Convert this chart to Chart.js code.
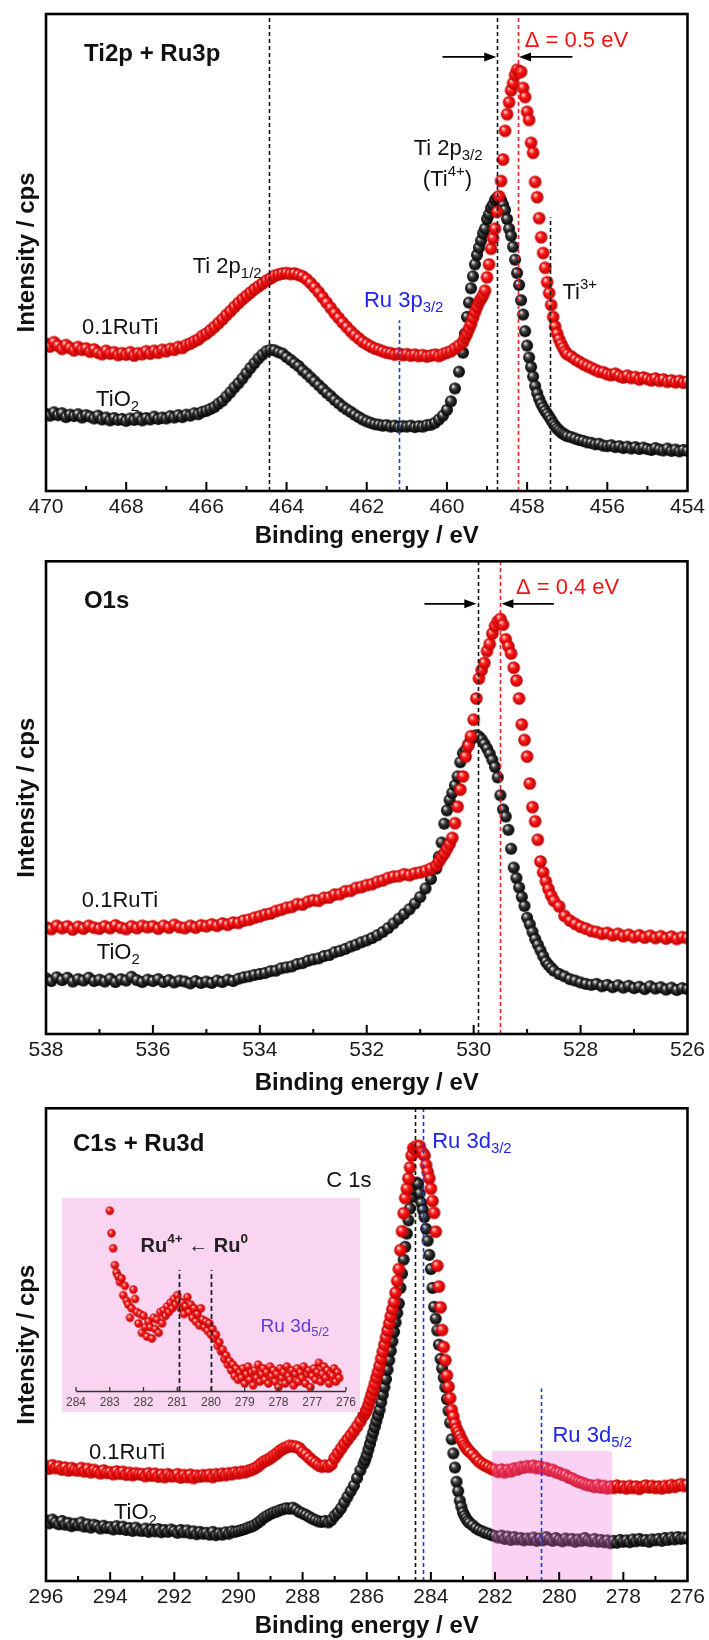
<!DOCTYPE html>
<html>
<head>
<meta charset="utf-8">
<script src="https://cdn.jsdelivr.net/npm/chart.js@4.4.0/dist/chart.umd.min.js"></script>
<style>
  body { margin: 0; background: #fff; }
  #wrap { position: relative; width: 709px; height: 1640px; overflow: hidden; background: #fff; }
  canvas { position: absolute; }
</style>
</head>
<body>
<div id="wrap">
  <canvas id="ti2p" width="709" height="554" style="left:0;top:0"></canvas>
  <canvas id="o1s" width="709" height="547" style="left:0;top:554px"></canvas>
  <canvas id="c1s" width="709" height="543" style="left:0;top:1101px"></canvas>
  <canvas id="inset" width="298" height="214" style="left:62px;top:1198px"></canvas>
</div>
<script>
// energy grids (eV) - finer steps across the main peaks
function grid(from, to, step) {
  const out = [];
  const n = Math.round(Math.abs(from - to) / step);
  for (let i = 0; i <= n; i++) out.push(+(from - i * step).toFixed(2));
  return out;
}

const ti2pEnergy = [...grid(470, 459.6, 0.1), ...grid(459.55, 457.0, 0.05), ...grid(456.9, 454.0, 0.1)];
const o1sEnergy = [...grid(538, 530.7, 0.1), ...grid(530.65, 528.5, 0.05), ...grid(528.4, 526.0, 0.1)];
const c1sEnergy = [...grid(296, 286.1, 0.1), ...grid(286.05, 282.8, 0.05), ...grid(282.7, 276.0, 0.1)];
const insetEnergy = grid(283.0, 276.2, 0.05);

// intensities, arbitrary units (0 = bottom of frame, 100 = top)
const ti2pTiO2 = [
  16.2,15.8,16.5,15.9,16.3,15.5,16.0,15.7,16.1,15.4,
  15.9,15.6,15.2,15.8,15.0,15.4,14.8,15.3,14.9,15.1,
  14.7,15.2,14.9,15.5,14.8,15.3,15.0,15.6,15.1,15.4,
  15.2,15.7,15.4,15.9,15.5,16.0,15.8,16.3,16.1,16.6,
  16.8,17.2,17.6,18.3,18.9,19.8,20.7,21.7,22.6,23.6,
  24.7,25.8,26.8,27.8,28.6,29.3,29.6,29.5,29.1,28.8,
  28.1,27.5,26.8,26.2,25.3,24.6,23.8,23.0,22.2,21.4,
  20.6,19.9,19.1,18.4,17.7,17.1,16.6,16.0,15.5,15.0,
  14.6,14.3,14.0,13.9,13.7,13.8,13.5,13.7,13.4,13.6,
  13.5,13.7,13.4,13.6,13.5,13.8,13.9,14.3,15.0,15.8,
  17.0,18.8,21.5,25.0,29.0,
  33.0,36.5,39.5,42.5,45.0,47.5,49.5,51.0,52.5,54.0,55.0,57.0,
  58.0,59.3,60.0,61.0,61.5,61.3,61.0,60.0,58.9,57.0,55.0,53.5,51.2,48.5,45.7,43.2,40.0,37.0,33.5,30.5,
  28.0,26.0,24.0,22.0,20.5,19.3,18.3,17.5,16.8,16.2,15.6,14.9,14.2,13.6,13.1,12.7,12.3,12.0,11.8,11.5,
  11.3,11.0,10.7,10.5,10.2,10.1,9.8,9.9,9.5,9.4,
  9.6,9.2,9.4,9.0,9.3,8.9,9.2,8.8,9.1,8.8,
  8.6,9.0,8.7,8.5,8.9,8.4,8.7,8.3,8.6,8.4
];
const ti2pRuTi = [
  30.9,30.3,31.2,30.5,29.8,30.6,30.0,29.5,30.2,29.6,
  29.9,29.2,29.7,29.0,28.7,29.4,28.8,29.1,28.5,28.9,
  28.6,29.1,28.4,28.9,28.7,29.3,28.8,29.4,29.0,29.6,
  29.3,29.8,29.6,30.2,30.0,30.6,30.9,31.4,31.8,32.5,
  33.0,33.7,34.4,35.2,36.0,36.9,37.7,38.6,39.4,40.2,
  40.9,41.6,42.3,42.9,43.5,44.1,44.6,45.1,45.4,45.6,
  45.7,45.5,45.6,45.3,45.0,44.4,43.6,42.7,41.7,40.6,
  39.5,38.4,37.3,36.3,35.3,34.4,33.5,32.7,32.0,31.3,
  30.8,30.3,29.9,29.6,29.3,29.0,28.9,28.6,28.8,28.5,
  28.7,28.4,28.6,28.3,28.5,28.2,28.4,28.6,28.3,28.7,
  29.0,29.3,29.9,30.5,31.2,
  32.2,33.0,34.0,35.0,36.3,37.5,38.6,39.6,40.3,41.0,42.0,44.8,
  47.5,50.8,53.0,55.0,58.5,61.8,65.0,69.5,75.5,79.0,81.5,84.0,85.5,87.2,88.3,87.8,87.9,84.5,82.6,79.5,
  77.8,73.0,70.9,64.8,61.6,57.2,53.2,49.9,46.8,43.8,41.5,39.0,36.5,34.5,33.0,31.8,30.8,30.0,29.2,28.7,
  28.2,27.6,27.1,26.6,26.2,25.8,25.4,25.0,24.9,24.5,
  24.3,24.6,24.1,23.8,24.2,23.7,23.9,23.4,23.8,23.5,
  23.2,23.6,23.1,23.4,22.9,23.2,22.8,23.1,22.7,22.9
];

const o1sRuTi = [
  22.6,22.2,22.9,22.4,22.8,22.1,22.7,22.3,22.9,22.5,
  22.3,22.8,22.4,23.0,22.5,22.2,22.8,22.4,22.9,22.6,
  22.8,22.3,22.9,22.5,23.1,22.6,22.4,22.9,22.5,23.0,
  22.8,23.2,22.9,23.4,23.1,23.6,23.5,24.0,24.2,24.6,
  24.9,25.3,25.5,26.0,26.3,26.7,26.9,27.5,27.4,28.0,
  28.3,28.2,28.8,28.9,29.5,29.6,30.2,30.3,30.9,31.1,
  31.5,31.7,32.2,32.5,33.0,33.3,33.4,33.8,33.6,34.0,
  34.2,34.5,35.0,35.6,
  36.5,37.4,38.2,39.2,40.2,41.5,44.6,48.1,51.7,54.5,58.7,61.0,63.0,66.5,
  71.0,75.2,77.0,78.5,81.0,82.5,84.7,86.3,87.3,87.8,86.6,83.5,82.0,80.5,77.5,74.8,71.0,65.5,62.2,58.7,
  53.0,48.0,45.0,41.1,36.5,34.2,32.3,30.7,29.3,28.2,
  27.0,25.0,24.0,23.3,22.7,22.3,21.8,21.6,21.2,21.4,
  20.9,21.2,20.7,21.0,20.5,20.9,20.4,20.8,20.3,20.7,
  20.2,20.6,20.1,20.5,20.3
];
const o1sTiO2 = [
  11.8,11.2,12.0,11.4,11.9,11.1,11.6,11.3,11.9,11.2,
  11.5,11.1,11.7,11.0,11.6,11.3,12.1,11.4,11.0,11.5,
  11.2,11.6,11.0,11.4,10.9,11.3,11.1,10.7,11.2,10.8,
  11.1,10.8,11.3,11.0,11.5,11.2,11.7,12.0,12.2,12.5,
  12.7,12.9,13.3,13.4,13.9,14.1,14.3,14.8,15.0,15.5,
  15.8,16.0,16.5,16.7,17.3,17.6,18.0,18.5,18.9,19.4,
  19.8,20.3,20.9,21.6,22.4,23.4,24.4,25.4,26.4,27.6,
  29.0,30.8,32.8,35.0,
  37.5,40.5,44.5,47.3,49.5,51.0,52.6,54.5,57.5,59.4,60.1,61.3,62.3,63.0,
  63.2,62.9,62.3,61.4,60.4,59.3,58.0,56.5,54.3,50.5,47.5,46.0,43.2,39.2,35.2,33.0,31.0,29.0,27.1,24.6,
  23.2,21.6,20.1,18.9,17.7,16.5,15.3,14.6,14.0,13.4,
  12.7,12.2,11.6,11.3,10.9,10.6,10.4,10.6,10.1,10.4,
  9.9,10.3,9.8,10.2,9.7,10.0,9.5,10.1,9.6,9.9,
  9.4,9.8,9.3,9.7,9.5
];

const c1sTiO2 = [
  12.8,12.2,13.0,12.4,12.0,12.7,11.9,12.3,11.6,12.1,
  11.8,12.4,11.5,12.0,11.3,11.9,11.6,11.1,11.7,11.2,
  11.4,10.9,11.6,11.0,11.5,10.8,11.2,10.6,11.3,10.7,
  10.6,11.1,10.4,10.9,10.5,11.0,10.3,10.8,10.4,10.9,
  10.6,10.2,10.8,10.3,10.7,10.1,10.5,9.9,10.4,10.0,
  10.2,9.8,10.4,9.7,10.1,9.8,10.3,10.0,10.5,10.4,
  10.6,10.8,11.0,11.3,11.5,11.8,12.3,12.8,13.4,13.8,
  14.2,14.5,14.7,15.0,15.2,15.4,15.3,15.5,15.1,14.6,
  14.3,14.0,13.6,13.2,12.9,12.6,12.5,12.7,12.4,12.9,
  13.8,14.5,15.4,16.6,17.8,19.0,20.2,21.8,23.4,24.8,
  25.6,26.6,27.8,29.0,30.2,31.4,32.6,33.8,35.0,36.2,37.8,39.4,41.0,42.7,44.7,46.7,48.7,50.7,52.7,54.7,56.7,58.7,
  62.0,65.0,68.0,70.7,73.5,76.3,78.8,81.2,82.8,84.0,84.3,84.0,82.0,80.0,78.5,77.0,74.5,72.0,69.0,66.0,
  62.0,58.0,55.5,53.0,50.0,47.0,45.0,43.0,41.0,38.5,36.0,33.5,30.0,27.0,24.0,21.0,19.0,17.0,15.7,14.5,
  13.8,13.2,12.7,12.3,
  11.8,11.2,10.8,10.5,10.2,10.0,9.7,9.5,
  9.2,9.6,8.9,9.4,8.7,9.3,8.8,9.1,8.6,9.0,
  8.7,9.2,8.5,9.0,8.6,9.3,8.8,8.5,9.1,8.7,
  8.4,9.0,8.6,8.9,8.3,8.8,8.5,9.1,8.6,8.4,
  8.9,8.3,8.7,8.2,8.6,8.0,8.5,8.1,8.7,8.3,
  8.6,8.2,8.8,8.4,8.9,8.5,8.7,8.3,8.8,8.6,
  8.9,8.5,9.1,8.7,9.2,8.8,9.3,8.9,9.2,9.0
];
const c1sRuTi = [
  24.3,23.8,24.5,23.9,24.2,23.6,24.0,23.4,23.9,23.5,
  23.4,23.9,23.2,23.7,23.0,23.5,23.1,22.8,23.4,22.9,
  23.0,22.6,23.2,22.7,23.1,22.5,22.9,22.4,22.8,22.6,
  22.6,22.2,22.8,22.3,22.7,22.1,22.5,22.0,22.6,22.2,
  22.2,22.6,21.9,22.4,22.0,22.5,21.8,22.3,22.1,22.4,
  22.2,22.5,22.0,22.6,22.3,22.7,22.4,22.8,22.6,23.0,
  22.8,23.1,23.0,23.3,23.5,23.8,24.2,24.8,25.3,25.6,
  26.0,26.5,27.0,27.6,28.0,28.3,28.6,28.5,28.4,28.1,
  27.3,26.8,26.1,25.5,25.0,24.5,24.2,24.4,24.2,24.7,
  26.0,27.0,28.0,29.0,29.9,30.8,31.7,32.7,33.8,35.0,
  35.6,36.2,37.2,38.3,39.4,40.5,41.7,43.0,44.2,45.5,47.0,48.5,50.0,51.5,53.0,54.5,56.0,57.5,59.0,61.0,63.5,66.0,
  70.0,74.0,77.8,81.0,83.0,85.2,87.5,90.0,91.6,91.3,92.0,91.7,92.0,90.8,90.5,90.0,88.0,86.5,85.2,83.0,
  80.4,77.9,73.9,66.7,62.3,57.9,53.1,49.5,46.7,43.5,41.1,38.7,36.2,34.8,33.3,32.2,31.5,30.8,30.0,29.4,
  28.7,28.2,27.8,27.4,
  26.8,26.0,25.3,24.8,24.4,24.1,23.7,23.5,
  23.1,23.6,23.0,23.5,23.2,23.8,23.6,24.1,24.0,24.3,
  24.1,24.4,23.9,24.2,23.7,23.9,23.4,23.5,23.0,22.9,
  22.5,22.4,21.9,21.7,21.3,21.0,20.8,20.5,20.3,20.2,
  19.9,20.3,19.8,20.1,19.6,20.0,19.7,20.2,19.8,20.0,
  19.6,20.1,19.7,20.0,19.5,19.9,20.2,19.8,20.1,19.7,
  20.0,19.6,20.1,19.8,20.3,19.9,20.2,20.5,20.1,20.4
];

// inset: Ru 3d5/2 region of 0.1RuTi
const insetRuTi = [
  96,84,76,67,63,61,58,60,51,56,48,46,39,44,54,49,42,36,41,31,40,34,
  29,37,34,28,39,33,38,31,42,36,43,40,45,42,47,44,49,46,51,48,
  44,47,41,45,50,42,46,39,44,37,41,35,44,38,34,37,32,36,30,33,
  28,30,24,26,21,22,17,19,14,16,11,14,8,12,6,10,
  7,12,4,9,13,6,10,3,11,7,14,5,9,12,6,10,4,13,8,11,5,9,2,12,
  7,10,4,13,8,6,11,3,9,12,5,10,7,13,4,9,11,2,8,12,
  6,10,15,5,9,13,7,11,4,9,8,12,5,10,7
];

[[ti2pEnergy, ti2pTiO2, ti2pRuTi], [o1sEnergy, o1sTiO2, o1sRuTi], [c1sEnergy, c1sTiO2, c1sRuTi], [insetEnergy, insetRuTi, insetRuTi]]
  .forEach(([e, a, b], i) => { if (e.length !== a.length || e.length !== b.length) console.error('length mismatch', i, e.length, a.length, b.length); });

const FONT = '"Liberation Sans", Arial, Helvetica, sans-serif';
const RED_TXT = '#f51212';
const BLUE_TXT = '#1f24e8';

// shaded "ball" markers like the original plot
function ball(r, c0, c1, c2) {
  const s = Math.ceil(r * 2) + 2;
  const cv = document.createElement('canvas');
  cv.width = cv.height = s;
  const g = cv.getContext('2d'), m = s / 2;
  const grad = g.createRadialGradient(m - r * 0.35, m - r * 0.4, r * 0.06, m, m, r);
  grad.addColorStop(0, c0);
  grad.addColorStop(0.4, c1);
  grad.addColorStop(1, c2);
  g.fillStyle = grad;
  g.beginPath();
  g.arc(m, m, r, 0, Math.PI * 2);
  g.fill();
  return cv;
}
const redBall = ball(6.3, '#ffe0e0', '#ff1a1a', '#b80000');
const blackBall = ball(6.0, '#e6e6e6', '#3a3a3a', '#000000');
const smallRed = ball(4.2, '#ffe0e0', '#ff2020', '#b80000');

// text with sub/superscripts: parts = [[text, 0|1(sub)|2(sup)], ...]
function richText(ctx, x, y, parts, size, color, bold) {
  ctx.save();
  ctx.fillStyle = color;
  ctx.textBaseline = 'middle';
  ctx.textAlign = 'left';
  let cx = x;
  for (const [t, k] of parts) {
    const s = k ? size * 0.68 : size;
    ctx.font = (bold ? 'bold ' : '') + s + 'px ' + FONT;
    const dy = k === 1 ? size * 0.32 : k === 2 ? -size * 0.36 : 0;
    ctx.fillText(t, cx, y + dy);
    cx += ctx.measureText(t).width;
  }
  ctx.restore();
}

function decor(cfg) {
  return {
    id: 'decor',
    beforeDraw(chart) {
      if (!cfg.background) return;
      const ctx = chart.ctx;
      ctx.save();
      ctx.fillStyle = cfg.background;
      ctx.fillRect(0, 0, chart.width, chart.height);
      ctx.restore();
    },
    afterDatasetsDraw(chart) {
      const {ctx, scales: {x, y}} = chart;
      ctx.save();
      if (cfg.rect) {
        const r = cfg.rect;
        const x0 = x.getPixelForValue(r.x0), x1 = x.getPixelForValue(r.x1);
        const y0 = y.getPixelForValue(r.y0), y1 = y.getPixelForValue(r.y1);
        ctx.fillStyle = r.color;
        ctx.fillRect(Math.min(x0, x1), Math.min(y0, y1), Math.abs(x1 - x0), Math.abs(y1 - y0));
      }
      for (const l of cfg.lines || []) {
        const px = Math.round(x.getPixelForValue(l.e)) + 0.5;
        ctx.strokeStyle = l.color;
        ctx.lineWidth = l.width || 1.6;
        ctx.setLineDash(l.dash || [4, 3]);
        ctx.beginPath();
        ctx.moveTo(px, y.getPixelForValue(l.from));
        ctx.lineTo(px, y.getPixelForValue(l.to));
        ctx.stroke();
      }
      ctx.restore();
    },
    afterDraw(chart) {
      const {ctx, chartArea: a, scales: {x, y}} = chart;
      ctx.save();
      if (cfg.frame) {
        ctx.strokeStyle = '#000';
        ctx.lineWidth = 2.6;
        ctx.strokeRect(a.left, a.top, a.right - a.left, a.bottom - a.top);
        ctx.lineWidth = 2;
        const lo = Math.min(x.min, x.max), hi = Math.max(x.min, x.max);
        for (let v = Math.ceil(lo); v <= hi; v++) {
          if (v === lo || v === hi) continue;
          const px = x.getPixelForValue(v);
          const len = v % 2 === 0 ? 9 : 5;
          ctx.beginPath();
          ctx.moveTo(px, a.bottom);
          ctx.lineTo(px, a.bottom - len);
          ctx.stroke();
        }
      }
      if (cfg.axisLine) {
        ctx.strokeStyle = '#333';
        ctx.lineWidth = 1.3;
        ctx.beginPath();
        ctx.moveTo(a.left, a.bottom + 0.5);
        ctx.lineTo(a.right, a.bottom + 0.5);
        ctx.stroke();
        const lo = Math.min(x.min, x.max), hi = Math.max(x.min, x.max);
        for (let v = lo; v <= hi; v++) {
          const px = x.getPixelForValue(v);
          ctx.beginPath();
          ctx.moveTo(px, a.bottom);
          ctx.lineTo(px, a.bottom - 4);
          ctx.stroke();
        }
      }
      for (const ar of cfg.arrows || []) {
        const x0 = x.getPixelForValue(ar.from), x1 = x.getPixelForValue(ar.to);
        const py = y.getPixelForValue(ar.y);
        const dir = Math.sign(x1 - x0);
        ctx.strokeStyle = '#000';
        ctx.fillStyle = '#000';
        ctx.lineWidth = 1.8;
        ctx.beginPath();
        ctx.moveTo(x0, py);
        ctx.lineTo(x1 - dir * 8, py);
        ctx.stroke();
        ctx.beginPath();
        ctx.moveTo(x1, py);
        ctx.lineTo(x1 - dir * 12, py - 4.5);
        ctx.lineTo(x1 - dir * 12, py + 4.5);
        ctx.closePath();
        ctx.fill();
      }
      for (const t of cfg.texts || []) {
        richText(ctx, x.getPixelForValue(t.e), y.getPixelForValue(t.y), t.parts, t.size || 22, t.color || '#111', t.bold);
      }
      if (cfg.yTitle) {
        ctx.translate(27, (a.top + a.bottom) / 2);
        ctx.rotate(-Math.PI / 2);
        ctx.font = 'bold 24px ' + FONT;
        ctx.fillStyle = '#111';
        ctx.textAlign = 'center';
        ctx.textBaseline = 'middle';
        ctx.fillText('Intensity / cps', 0, 0);
      }
      ctx.restore();
    }
  };
}

function makeMain(id, top, bottom, xmin, xmax, energy, red, black, cfg) {
  const el = document.getElementById(id);
  const H = el.height;
  return new Chart(el, {
    type: 'scatter',
    data: {
      datasets: [
        { label: '0.1RuTi', data: energy.map((e, i) => ({x: e, y: red[i]})), pointStyle: redBall, pointRadius: 6.3 },
        { label: 'TiO2', data: energy.map((e, i) => ({x: e, y: black[i]})), pointStyle: blackBall, pointRadius: 6.0 }
      ]
    },
    options: {
      responsive: false,
      animation: false,
      events: [],
      layout: { padding: { left: 46, right: el.width - 688, top: top, bottom: 0 } },
      plugins: { legend: { display: false }, tooltip: { enabled: false } },
      scales: {
        x: {
          type: 'linear', min: xmin, max: xmax, reverse: true,
          afterFit: s => { s.height = H - bottom; },
          grid: { display: false, drawTicks: false },
          border: { display: false },
          ticks: { stepSize: 2, autoSkip: false, maxRotation: 0, padding: 4, color: '#1a1a1a', font: { family: FONT, size: 21 } },
          title: { display: true, text: 'Binding energy / eV', color: '#111', font: { family: FONT, size: 24, weight: 'bold' }, padding: { top: 0, bottom: 3 } }
        },
        y: { display: false, min: 0, max: 100 }
      }
    },
    plugins: [decor(Object.assign({ frame: true, yTitle: true }, cfg))]
  });
}

// Ti2p + Ru3p
makeMain('ti2p', 14, 491, 454, 470, ti2pEnergy, ti2pRuTi, ti2pTiO2, {
  lines: [
    { e: 464.45, from: 0, to: 100, color: '#111' },
    { e: 461.2, from: 0, to: 35.8, color: '#2233ee' },
    { e: 458.75, from: 0, to: 100, color: '#111' },
    { e: 458.22, from: 0, to: 100, color: '#ee2222' },
    { e: 457.44, from: 0, to: 57.4, color: '#111' }
  ],
  arrows: [
    { from: 460.11, to: 458.77, y: 91.0 },
    { from: 456.87, to: 458.2, y: 91.0 }
  ],
  texts: [
    { e: 469.05, y: 91.6, parts: [['Ti2p + Ru3p', 0]], size: 24, bold: true },
    { e: 458.06, y: 94.3, parts: [['\u0394 = 0.5 eV', 0]], color: RED_TXT },
    { e: 460.83, y: 71.7, parts: [['Ti 2p', 0], ['3/2', 1]] },
    { e: 460.6, y: 65.2, parts: [['(Ti', 0], ['4+', 2], [')', 0]] },
    { e: 466.34, y: 47.0, parts: [['Ti 2p', 0], ['1/2', 1]] },
    { e: 462.07, y: 39.8, parts: [['Ru 3p', 0], ['3/2', 1]], color: BLUE_TXT },
    { e: 457.12, y: 41.5, parts: [['Ti', 0], ['3+', 2]] },
    { e: 469.1, y: 34.2, parts: [['0.1RuTi', 0]] },
    { e: 468.75, y: 19.1, parts: [['TiO', 0], ['2', 1]] }
  ]
});

// O1s
makeMain('o1s', 4, 480, 526, 538, o1sEnergy, o1sRuTi, o1sTiO2, {
  lines: [
    { e: 529.92, from: 0, to: 100, color: '#111' },
    { e: 529.5, from: 0, to: 100, color: '#ee2222' }
  ],
  arrows: [
    { from: 530.92, to: 529.95, y: 91.0 },
    { from: 528.5, to: 529.48, y: 91.0 }
  ],
  texts: [
    { e: 537.29, y: 91.6, parts: [['O1s', 0]], size: 24, bold: true },
    { e: 529.21, y: 94.3, parts: [['\u0394 = 0.4 eV', 0]], color: RED_TXT },
    { e: 537.33, y: 28.2, parts: [['0.1RuTi', 0]] },
    { e: 537.05, y: 17.2, parts: [['TiO', 0], ['2', 1]] }
  ]
});

// C1s + Ru3d
makeMain('c1s', 4, 480, 276, 296, c1sEnergy, c1sRuTi, c1sTiO2, {
  rect: { x0: 282.1, x1: 278.35, y0: 0, y1: 27.5, color: 'rgba(240, 110, 220, 0.30)' },
  lines: [
    { e: 284.5, from: 0, to: 100, color: '#111' },
    { e: 284.26, from: 0, to: 100, color: '#2233ee' },
    { e: 280.57, from: 0, to: 40.7, color: '#2233ee' }
  ],
  texts: [
    { e: 295.16, y: 92.4, parts: [['C1s + Ru3d', 0]], size: 24, bold: true },
    { e: 287.26, y: 84.7, parts: [['C 1s', 0]] },
    { e: 283.96, y: 92.9, parts: [['Ru 3d', 0], ['3/2', 1]], color: BLUE_TXT },
    { e: 280.21, y: 30.7, parts: [['Ru 3d', 0], ['5/2', 1]], color: BLUE_TXT },
    { e: 294.66, y: 27.1, parts: [['0.1RuTi', 0]] },
    { e: 293.88, y: 14.3, parts: [['TiO', 0], ['2', 1]] }
  ]
});

// inset
(function () {
  const el = document.getElementById('inset');
  const H = el.height;
  new Chart(el, {
    type: 'scatter',
    data: {
      datasets: [
        { label: '0.1RuTi', data: insetEnergy.map((e, i) => ({x: e, y: insetRuTi[i]})), pointStyle: smallRed, pointRadius: 4.2, clip: false }
      ]
    },
    options: {
      responsive: false,
      animation: false,
      events: [],
      layout: { padding: { left: 11, right: 11.5, top: 1, bottom: 0 } },
      plugins: { legend: { display: false }, tooltip: { enabled: false } },
      scales: {
        x: {
          type: 'linear', min: 276, max: 284, reverse: true,
          afterFit: s => { s.height = H - 193; },
          grid: { display: false, drawTicks: false },
          border: { display: false },
          ticks: { stepSize: 1, autoSkip: false, maxRotation: 0, padding: 4, color: '#444', font: { family: FONT, size: 12 } }
        },
        y: { display: false, min: 0, max: 100 }
      }
    },
    plugins: [decor({
      background: '#fad5f1',
      axisLine: true,
      lines: [
        { e: 280.95, from: 0, to: 64.4, color: '#222', width: 1.8, dash: [5, 3] },
        { e: 280.0, from: 0, to: 64.4, color: '#222', width: 1.8, dash: [5, 3] }
      ],
      texts: [
        { e: 282.09, y: 76.9, parts: [['Ru', 0], ['4+', 2], [' \u2190 ', 0], ['Ru', 0], ['0', 2]], size: 20, bold: true, color: '#222' },
        { e: 278.53, y: 34.3, parts: [['Ru 3d', 0], ['5/2', 1]], size: 19, color: '#5a3cd6' }
      ]
    })]
  });
})();
</script>
</body>
</html>
